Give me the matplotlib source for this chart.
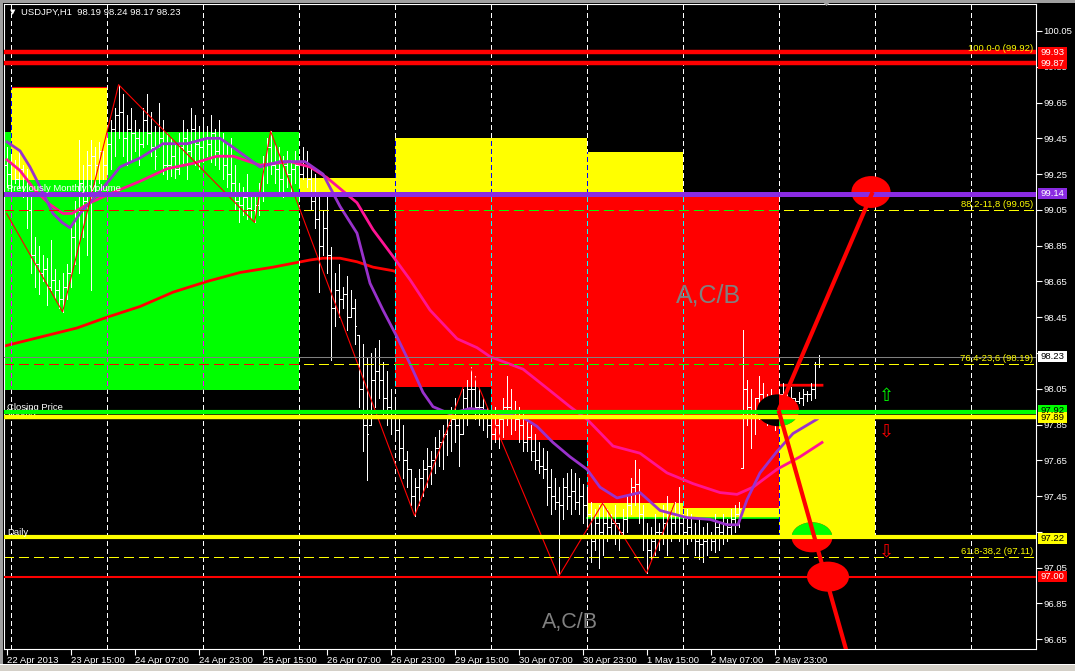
import matplotlib
matplotlib.use("Agg")
import matplotlib.pyplot as plt
from matplotlib.patches import Rectangle, Ellipse, Polygon
from matplotlib.transforms import blended_transform_factory
import numpy as np

plt.rcParams['font.family'] = ['Liberation Sans', 'DejaVu Sans']
plt.rcParams['lines.scale_dashes'] = False

# ---------------- data (H1 bars, index 0 = 22 Apr 23:00) ----------------
highs = [
    99.40, 99.36, 99.33, 99.38, 99.30, 99.28, 99.12, 98.90,
    98.85, 98.80, 98.78, 98.88, 98.72, 98.66, 98.70, 98.75,
    98.95, 99.10, 99.44, 99.30, 99.38, 99.44, 99.40, 99.43,
    99.38, 99.45, 99.55, 99.62, 99.75, 99.70, 99.58, 99.62,
    99.55, 99.50, 99.62, 99.70, 99.60, 99.52, 99.65, 99.55,
    99.48, 99.45, 99.43, 99.48, 99.55, 99.50, 99.62, 99.58,
    99.52, 99.55, 99.52, 99.58, 99.50, 99.55, 99.48, 99.42,
    99.45, 99.30, 99.20, 99.18, 99.25, 99.15, 99.12, 99.20,
    99.35, 99.45, 99.49, 99.42, 99.40, 99.35, 99.38, 99.33,
    99.38, 99.35, 99.40, 99.38, 99.30, 99.25, 99.12, 99.05,
    99.12, 98.84, 98.70, 98.75, 98.62, 98.68, 98.60, 98.55,
    98.35, 98.30, 98.22, 98.25, 98.28, 98.32, 98.20, 98.15,
    98.05, 97.98, 97.90, 97.85, 97.70, 97.60, 97.55, 97.60,
    97.65, 97.72, 97.70, 97.78, 97.82, 97.85, 97.90, 97.95,
    98.00, 97.90, 98.05, 98.10, 98.17, 98.12, 98.05, 98.00,
    97.95, 97.92, 97.95, 97.90, 98.00, 98.12, 98.05, 97.98,
    97.95, 97.92, 97.90, 97.85, 97.80, 97.75, 97.72, 97.70,
    97.60, 97.55, 97.50, 97.55, 97.58, 97.60, 97.58, 97.55,
    97.52, 97.50, 97.42, 97.38, 97.40, 97.41, 97.38, 97.35,
    97.40, 97.30, 97.38, 97.45, 97.55, 97.65, 97.60, 97.40,
    97.30, 97.28, 97.35, 97.30, 97.40, 97.45, 97.38, 97.42,
    97.50, 97.35, 97.38, 97.35, 97.30, 97.32, 97.28, 97.30,
    97.25, 97.35, 97.30, 97.35, 97.32, 97.38, 97.40, 97.42,
    98.38, 98.10, 98.05, 98.00, 98.12, 98.08, 98.02, 98.05,
    97.98, 98.05, 98.08, 98.02, 98.06, 98.00, 98.03, 98.05,
    98.04, 98.08, 98.20, 98.24]
lows = [
    99.18, 99.15, 99.20, 99.17, 99.12, 98.95, 98.70, 98.62,
    98.58, 98.65, 98.52, 98.60, 98.56, 98.50, 98.48, 98.55,
    98.62, 98.75, 98.70, 98.90, 98.80, 98.60, 99.15, 99.20,
    99.22, 99.25, 99.28, 99.35, 99.45, 99.35, 99.30, 99.32,
    99.38, 99.30, 99.40, 99.42, 99.35, 99.28, 99.40, 99.25,
    99.22, 99.24, 99.23, 99.25, 99.30, 99.22, 99.35, 99.30,
    99.28, 99.32, 99.35, 99.32, 99.30, 99.28, 99.22, 99.18,
    99.15, 99.05, 98.98, 99.02, 99.00, 99.00, 98.98, 99.02,
    99.10, 99.20, 99.25, 99.20, 99.15, 99.12, 99.18, 99.14,
    99.20, 99.18, 99.22, 99.18, 99.05, 98.95, 98.59, 98.80,
    98.70, 98.21, 98.40, 98.45, 98.50, 98.38, 98.45, 98.30,
    97.95, 97.70, 97.54, 97.85, 97.95, 98.00, 97.90, 97.85,
    97.80, 97.78, 97.65, 97.55, 97.50, 97.40, 97.34, 97.40,
    97.45, 97.50, 97.52, 97.58, 97.62, 97.60, 97.68, 97.70,
    97.75, 97.62, 97.80, 97.85, 97.92, 97.88, 97.85, 97.82,
    97.78, 97.72, 97.75, 97.72, 97.78, 97.85, 97.80, 97.82,
    97.75, 97.70, 97.70, 97.65, 97.60, 97.58, 97.55, 97.40,
    97.35, 97.38, 97.00, 97.32, 97.38, 97.35, 97.38, 97.35,
    97.30, 97.28, 97.08, 97.15, 97.05, 97.12, 97.20, 97.22,
    97.18, 97.15, 97.22, 97.25, 97.35, 97.40, 97.30, 97.15,
    97.02, 97.10, 97.12, 97.15, 97.18, 97.12, 97.20, 97.25,
    97.20, 97.16, 97.18, 97.20, 97.12, 97.10, 97.08, 97.12,
    97.15, 97.14, 97.15, 97.18, 97.20, 97.22, 97.25, 97.28,
    97.61, 97.85, 97.72, 97.80, 97.88, 97.90, 97.85, 97.88,
    97.82, 97.95, 97.98, 97.94, 97.96, 97.95, 97.97, 97.96,
    97.98, 97.99, 98.00, 98.17]
closes = [
    99.25, 99.30, 99.22, 99.28, 99.15, 99.05, 98.80, 98.75,
    98.70, 98.72, 98.62, 98.66, 98.60, 98.55, 98.62, 98.70,
    98.90, 99.05, 99.20, 99.10, 99.30, 99.35, 99.30, 99.38,
    99.30, 99.42, 99.50, 99.58, 99.60, 99.45, 99.50, 99.48,
    99.45, 99.42, 99.55, 99.48, 99.40, 99.35, 99.45, 99.30,
    99.30, 99.35, 99.28, 99.40, 99.45, 99.38, 99.50, 99.42,
    99.40, 99.45, 99.42, 99.48, 99.38, 99.35, 99.30, 99.25,
    99.20, 99.10, 99.08, 99.12, 99.06, 99.05, 99.08, 99.15,
    99.30, 99.40, 99.30, 99.28, 99.22, 99.30, 99.25, 99.28,
    99.30, 99.25, 99.32, 99.22, 99.10, 99.00, 98.85, 98.95,
    98.80, 98.50, 98.60, 98.55, 98.58, 98.45, 98.50, 98.40,
    98.05, 97.85, 97.80, 98.10, 98.15, 98.10, 98.00, 97.95,
    97.90, 97.82, 97.72, 97.65, 97.60, 97.45, 97.50, 97.55,
    97.60, 97.62, 97.65, 97.72, 97.75, 97.80, 97.85, 97.88,
    97.85, 97.80, 98.00, 98.05, 98.05, 97.95, 97.95, 97.90,
    97.85, 97.80, 97.85, 97.88, 97.95, 97.95, 97.90, 97.88,
    97.85, 97.75, 97.78, 97.70, 97.65, 97.62, 97.60, 97.50,
    97.45, 97.42, 97.40, 97.50, 97.45, 97.48, 97.42, 97.45,
    97.40, 97.35, 97.20, 97.30, 97.25, 97.30, 97.28, 97.30,
    97.30, 97.25, 97.32, 97.40, 97.50, 97.52, 97.35, 97.22,
    97.15, 97.20, 97.25, 97.25, 97.30, 97.22, 97.30, 97.35,
    97.30, 97.25, 97.28, 97.22, 97.20, 97.18, 97.20, 97.22,
    97.20, 97.28, 97.25, 97.30, 97.28, 97.32, 97.35, 97.38,
    98.05, 97.95, 97.90, 98.00, 98.02, 97.95, 97.98, 97.95,
    97.90, 98.02, 98.00, 97.98, 98.00, 97.98, 98.00, 98.02,
    98.02, 98.05, 98.19, 98.23]
first_open = 99.30

xtick_bars = [0, 16, 32, 48, 64, 80, 96, 112, 128, 144, 160, 176, 192]
xtick_labels = ['22 Apr 2013', '23 Apr 15:00', '24 Apr 07:00', '24 Apr 23:00',
                '25 Apr 15:00', '26 Apr 07:00', '26 Apr 23:00', '29 Apr 15:00',
                '30 Apr 07:00', '30 Apr 23:00', '1 May 15:00', '2 May 07:00',
                '2 May 23:00']
ytick_vals = [96.65, 96.85, 97.05, 97.25, 97.45, 97.65, 97.85, 98.05, 98.25,
              98.45, 98.65, 98.85, 99.05, 99.25, 99.45, 99.65, 99.85, 100.05]
ytick_hidden = [97.25, 98.25]   # fully covered by the price tags in the original
day_bars = [1, 25, 49, 73, 97, 121, 145, 169, 193, 217, 241]

# rectangles: bar from, bar to, top price, bottom price, colour
rect_from = [-3, 1, 73, 97, 121, 145, 97, 145, 145, 169, 193]
rect_to = [73, 25, 97, 121, 145, 193, 145, 169, 169, 193, 217]
rect_top = [99.485, 99.737, 99.228, 99.122, 99.122, 99.122, 99.452, 99.374, 97.412, 97.384, 97.904]
rect_bot = [98.043, 99.217, 99.122, 98.060, 97.764, 97.384, 99.122, 99.122, 97.328, 97.328, 97.222]
rect_col = ['#00ff00', '#ffff00', '#ffff00', '#ff0000', '#ff0000', '#ff0000',
            '#ffff00', '#ffff00', '#ffff00', '#ffff00', '#ffff00']

# moving averages (bar, price)
ma_fast_x = [0.1, 3.35, 5.85, 8.35, 11.6, 13.85, 15.85, 18.35, 21.6, 25.85, 28.35, 33.35,
             39.1, 45.1, 50.1, 53.35, 56.6, 63.35, 68.35, 74.6, 79.1, 83.35, 87.6, 90.85,
             94.1, 97.6, 100.85, 104.1, 106.6, 110.85, 115.85, 119.1, 124.1, 129.1, 132.6,
             136.6, 140.85, 145.1, 148.35, 152.6, 158.35, 163.35, 170.1, 175.85, 180.1,
             182.85, 185.1, 188.35, 192.6, 196.6, 202.6]
ma_fast_y = [99.43, 99.38, 99.29, 99.18, 99.03, 98.98, 98.95, 99.03, 99.11, 99.22, 99.29, 99.34,
             99.42, 99.42, 99.45, 99.45, 99.40, 99.29, 99.32, 99.32, 99.25, 99.07, 98.92, 98.64,
             98.49, 98.34, 98.19, 98.03, 97.95, 97.91, 97.94, 97.93, 97.91, 97.89, 97.84,
             97.75, 97.67, 97.60, 97.50, 97.44, 97.47, 97.37, 97.33, 97.32, 97.29,
             97.29, 97.43, 97.58, 97.70, 97.80, 97.88]
ma_slow_x = [0.1, 3.35, 7.1, 10.85, 14.1, 16.35, 20.85, 25.85, 33.35, 40.1, 46.6, 52.6, 56.6,
             63.35, 70.85, 75.85, 80.1, 87.6, 91.6, 96.6, 100.85, 105.85, 112.6, 117.6, 120.85,
             129.1, 135.85, 140.85, 145.1, 151.6, 158.35, 165.1, 171.6, 178.35, 182.6, 186.6,
             192.6, 198.35, 203.85]
ma_slow_y = [99.33, 99.27, 99.16, 99.08, 99.03, 99.03, 99.09, 99.14, 99.21, 99.28, 99.31, 99.35, 99.35,
             99.30, 99.32, 99.29, 99.23, 99.09, 98.94, 98.79, 98.66, 98.49, 98.33, 98.28, 98.23,
             98.16, 98.04, 97.95, 97.88, 97.73, 97.69, 97.58, 97.52, 97.47, 97.46, 97.50,
             97.60, 97.67, 97.75]
ma_long_x = [-0.4, 17.6, 25.1, 33.35, 41.6, 50.1, 58.35, 66.6, 75.85, 79.1, 83.35, 87.6, 91.6,
             96.6, 110.85, 135.85, 160.85, 178.35, 193.35, 203.85]
ma_long_y = [98.29, 98.39, 98.45, 98.51, 98.59, 98.65, 98.70, 98.73, 98.77, 98.78, 98.78, 98.76, 98.73,
             98.71, 98.60, 98.38, 98.18, 98.10, 98.07, 98.07]

zigzag_x = [0, 14, 28, 62, 66, 102, 116, 138, 149, 160, 167]
zigzag_y = [99.03, 98.48, 99.75, 98.98, 99.49, 97.34, 98.17, 97.00, 97.41, 97.02, 97.41]

trend_up_x = [193, 216.5]
trend_up_y = [97.93, 99.15]
trend_dn_x = [193, 210.4]
trend_dn_y = [97.93, 96.55]

# ellipses: centre bar, centre price, width (bars), height (price)
ell_x = [216.1, 201.35, 205.35, 192.85]
ell_y = [99.15, 97.22, 97.00, 97.93]
ell_w = [9.8, 10.2, 10.5, 10.5]
ell_h = [0.178, 0.168, 0.168, 0.178]

# horizontal lines
hl_price = [99.93, 99.87, 99.14, 98.23, 97.92, 97.89, 97.22, 97.00]
hl_color = ['#ff0000', '#ff0000', '#8a2be2', '#808080', '#00ff00', '#ffff00', '#ffff00', '#ff0000']
hl_width = [3.2, 3.2, 3.6, 0.75, 3.0, 3.2, 3.0, 1.5]
lbl_text = ['99.93', '99.87', '99.14', '98.23', '97.92', '97.89', '97.22', '97.00']
lbl_fg = ['white', 'white', 'white', 'black', 'black', 'black', 'black', 'white']
lbl_bg = ['#ff0000', '#ff0000', '#8a2be2', '#ffffff', '#00ff00', '#ffff00', '#ffff00', '#ff0000']
lbl_price = [99.93, 99.866, 99.139, 98.228, 97.926, 97.887, 97.216, 96.999]

fib_price = [99.92, 99.05, 98.19, 97.11]
fib_text = ['100.0-0 (99.92)', '88,2-11,8 (99.05)', '76,4-23,6 (98.19)', '61.8-38,2 (97.11)']
fib_dashed = [False, True, True, True]

arrow_x = [219.85, 219.85, 219.85]
arrow_y = [98.01, 97.81, 97.14]
arrow_sym = ['\u21e7', '\u21e9', '\u21e9']
arrow_col = ['#00ff00', '#ff0000', '#ff0000']

# ---------------- figure ----------------
W, H = 1075, 671
fig = plt.figure(figsize=(W / 100, H / 100), dpi=100, facecolor='black')
ax = fig.add_axes([4 / W, 22 / H, 1032 / W, 645.5 / H], facecolor='black')
ax.set_xlim(-0.65, 257.35)
ax.set_ylim(96.5956, 100.2037)


def xor(a, b):
    return '#%06x' % (int(a[1:], 16) ^ int(b[1:], 16))


clips = []
for x0, x1, pt, pb, c in zip(rect_from, rect_to, rect_top, rect_bot, rect_col):
    ax.add_patch(Rectangle((x0, pb), x1 - x0, pt - pb, fc=c, ec='none', zorder=1))
    clips.append((Rectangle((x0, pb), x1 - x0, pt - pb, transform=ax.transData), c))


def xor_draw(make, base):
    make(base)
    for clip, c in clips:
        a = make(xor(base, c))
        a.set_clip_path(clip)


# vertical day grid (XOR style)
for d in day_bars:
    xor_draw(lambda col, d=d: ax.axvline(d, color=col, lw=0.8, ls=(0, (3.2, 2.2)),
                                         zorder=1.5, antialiased=False), '#ffffff')

# rectangle edge lines
ax.plot([1, 25], [99.737, 99.737], color='#ff0000', lw=0.8, zorder=1.2)
ax.plot([145, 193], [97.33, 97.33], color='#00ff00', lw=1.2, zorder=1.2)

# bars
idx = np.arange(len(highs))
opens = np.clip(np.array([first_open] + closes[:-1]), lows, highs)
ax.vlines(idx, lows, highs, colors='white', lw=0.65, zorder=2, antialiased=False)
ax.hlines(opens, idx - 0.3, idx, colors='white', lw=0.65, zorder=2, antialiased=False)
ax.hlines(closes, idx, idx + 0.3, colors='white', lw=0.65, zorder=2, antialiased=False)

# moving averages and zigzag
ax.plot(ma_long_x, ma_long_y, color='#ff0000', lw=2.0, zorder=1.3)
ax.plot(ma_slow_x, ma_slow_y, color='#ff1493', lw=2.0, zorder=2.2)
ax.plot(ma_fast_x, ma_fast_y, color='#9932cc', lw=2.0, zorder=2.25)
ax.plot(zigzag_x, zigzag_y, color='#ff0000', lw=0.8, zorder=2.3)

# fibonacci dashed lines
for p, dsh in zip(fib_price, fib_dashed):
    if dsh:
        xor_draw(lambda col, p=p: ax.axhline(p, color=col, lw=0.8, ls=(0, (6.5, 4.3)),
                                             zorder=2.4, antialiased=False), '#ffff00')

# ellipses (XOR style)
for cx, cy, w, h in zip(ell_x, ell_y, ell_w, ell_h):
    xor_draw(lambda col, cx=cx, cy=cy, w=w, h=h: ax.add_patch(
        Ellipse((cx, cy), w, h, fc=col, ec='none', zorder=2.6)), '#ff0000')

# horizontal lines
for p, c, lw in zip(hl_price, hl_color, hl_width):
    ax.axhline(p, color=c, lw=lw, zorder=3)

# trend lines
ax.plot(trend_up_x, trend_up_y, color='#ff0000', lw=3.0, zorder=3.5, solid_capstyle='butt')
ax.plot(trend_dn_x, trend_dn_y, color='#ff0000', lw=3.0, zorder=3.5, solid_capstyle='butt')

# fib texts
tr = blended_transform_factory(ax.transAxes, ax.transData)
for p, s in zip(fib_price, fib_text):
    ax.annotate(s, xy=(0.9971, p), xycoords=tr, xytext=(0, 2), textcoords='offset points',
                ha='right', va='baseline', color='#ffff00', fontsize=6.8, zorder=4)

# object labels
ax.text(0.2, 99.158, 'Previously Monthly Volume', color='white', fontsize=6.8,
        va='baseline', ha='left', zorder=3.2)
ax.text(0.2, 97.934, 'Closing Price', color='white', fontsize=6.8,
        va='baseline', ha='left', zorder=2.9)
ax.text(0.2, 97.902, 'Weekly', color='white', fontsize=6.8,
        va='baseline', ha='left', zorder=2.9)
ax.text(0.2, 97.232, 'Daily', color='white', fontsize=6.8,
        va='baseline', ha='left', zorder=3.2)
ax.text(175.6, 98.57, 'A,C/B', color='#808080', fontsize=18, ha='center', va='center', zorder=2.1)
ax.text(140.8, 96.745, 'A,C/B', color='#808080', fontsize=15.5, ha='center', va='center', zorder=2.1)

for x, y, s, c in zip(arrow_x, arrow_y, arrow_sym, arrow_col):
    ax.text(x, y, s, color=c, fontsize=13, ha='center', va='center',
            family='DejaVu Sans', zorder=4)

# axes styling
for sp in ax.spines.values():
    sp.set_color('white')
    sp.set_linewidth(0.8)
ax.yaxis.tick_right()
ax.set_yticks(ytick_vals)
ax.set_yticklabels(['' if v in ytick_hidden else '%.2f' % v for v in ytick_vals])
ax.set_xticks(xtick_bars)
ax.set_xticklabels(xtick_labels)
for lab in ax.get_xticklabels():
    lab.set_ha('left')
ax.tick_params(axis='both', colors='white', labelcolor='white', length=4, width=0.8,
               labelsize=6.8, pad=1.5)
ax.tick_params(axis='x', pad=1.0)

# price labels on scale
for p, s, fg, bg in zip(lbl_price, lbl_text, lbl_fg, lbl_bg):
    ax.add_patch(Rectangle((1.0019, p - 0.0307), 0.0281, 0.0614, transform=tr,
                           fc=bg, ec='none', clip_on=False, zorder=6))
    ax.text(1.0043, p, s, transform=tr, color=fg, fontsize=6.8, ha='left', va='center',
            clip_on=False, zorder=7)

# title
fig.text(10 / W, 1 - 12.5 / H, '\u25bc', color='white', fontsize=5, va='center',
         ha='left', family='DejaVu Sans')
fig.text(21 / W, 1 - 12.5 / H, 'USDJPY,H1  98.19 98.24 98.17 98.23', color='white',
         fontsize=6.8, va='center', ha='left')

# window borders
fig.add_artist(Rectangle((0, 0), 3 / W, 1, transform=fig.transFigure, fc='#a0a0a0', ec='none'))
fig.add_artist(Rectangle((0, 1 - 2.5 / H), 1, 2.5 / H, transform=fig.transFigure,
                         fc='#a0a0a0', ec='none'))
fig.add_artist(Rectangle((0, 0), 1, 6 / H, transform=fig.transFigure, fc='#d4d0c8', ec='none'))
fig.add_artist(Rectangle((0, 6 / H), 1, 1 / H, transform=fig.transFigure, fc='#ffffff', ec='none'))
fig.add_artist(Polygon([[821 / W, 1.0], [832 / W, 1.0], [826.5 / W, 1 - 6 / H]],
                       closed=True, transform=fig.transFigure, fc='#a0a0a0', ec='none'))

fig.savefig('out.png', dpi=100, facecolor='black')
